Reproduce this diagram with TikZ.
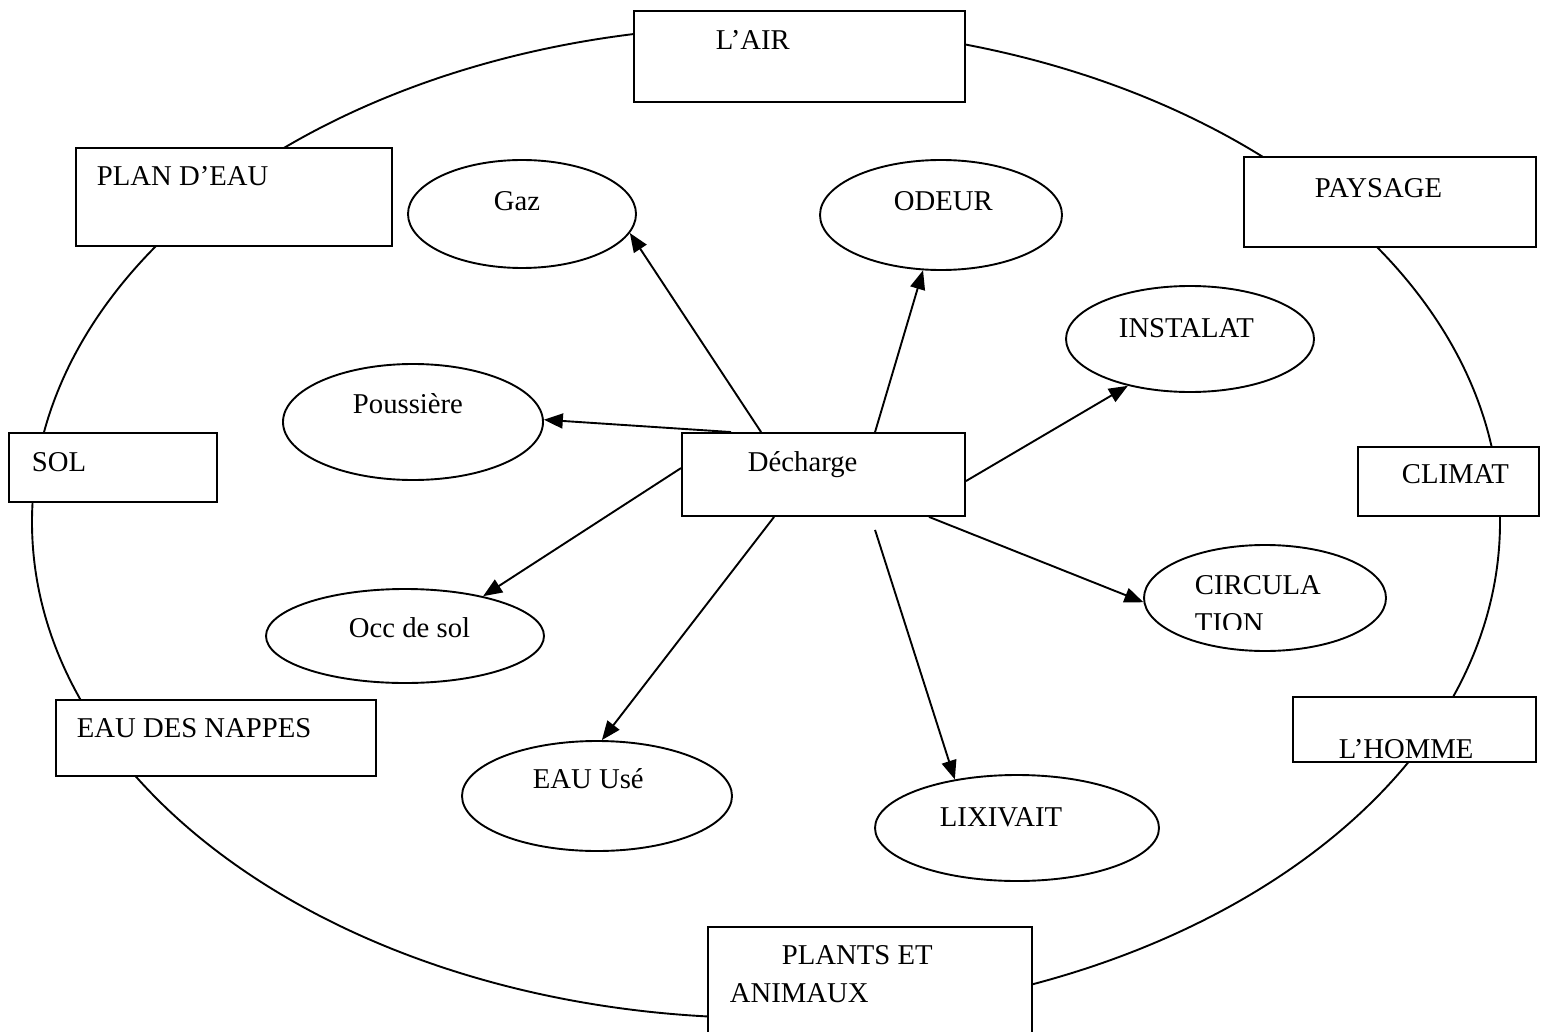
\documentclass[tikz,border=0pt]{standalone}
\usepackage{fontspec}
\setmainfont{Liberation Serif}
\usetikzlibrary{arrows.meta,calc,shapes.geometric}
\begin{document}
\begin{tikzpicture}[x=1pt,y=-1pt,line width=1.9pt,
  rbox/.style={draw,rectangle,fill=white,inner sep=0pt},
  ell/.style={draw,ellipse,fill=white,inner sep=0pt},
  lbl/.style={inner sep=0pt,anchor=base west,font=\fontsize{28.7}{38}\selectfont},
  arr/.style={-{Triangle[length=19pt,width=15pt]}}]
\useasboundingbox (0,0) rectangle (1549,1032);
\clip (0,0) rectangle (1549,1032);
% outer ring
\draw (766,522) ellipse [x radius=734, y radius=496];
% boxes on the ring
\node[rbox,minimum width=331pt,minimum height=91pt] (air) at (799.5,56.5) {};
\node[rbox,minimum width=316pt,minimum height=98pt] (plan) at (234,197) {};
\node[rbox,minimum width=292pt,minimum height=90pt] (pays) at (1390,202) {};
\node[rbox,minimum width=208pt,minimum height=69pt] (sol) at (113,467.5) {};
\node[rbox,minimum width=181pt,minimum height=69pt] (clim) at (1448.5,481.5) {};
\node[rbox,minimum width=320pt,minimum height=76pt] (nap) at (216,738) {};
\node[rbox,minimum width=243pt,minimum height=65pt] (homme) at (1414.5,729.5) {};
\node[rbox,minimum width=324pt,minimum height=120pt] (plants) at (870,987) {};
% centre
\node[rbox,minimum width=283pt,minimum height=83pt] (dech) at (823.5,474.5) {};
% ellipses
\node[ell,minimum width=228pt,minimum height=108pt] (gaz) at (522,214) {};
\node[ell,minimum width=242pt,minimum height=110pt] (odeur) at (941,215) {};
\node[ell,minimum width=248pt,minimum height=106pt] (inst) at (1190,339) {};
\node[ell,minimum width=260pt,minimum height=116pt] (pous) at (413,422) {};
\node[ell,minimum width=278pt,minimum height=94pt] (occ) at (405,636) {};
\node[ell,minimum width=242pt,minimum height=106pt] (circ) at (1265,598) {};
\node[ell,minimum width=270pt,minimum height=110pt] (eau) at (597,796) {};
\node[ell,minimum width=284pt,minimum height=106pt] (lix) at (1017,828) {};
% texts
\node[lbl] (tair) at (715,50) {L’AIR};
\node[lbl] (tplan) at (96,186) {PLAN D’EAU};
\node[lbl] (tpays) at (1314,198) {PAYSAGE};
\node[lbl] (tsol) at (31,471) {SOL};
\node[lbl] (tclim) at (1401,483) {CLIMAT};
\node[lbl] (tnap) at (76,737) {EAU DES NAPPES};
\node[lbl] (thom) at (1338,758) {L’HOMME};
\node[lbl] (tpl1) at (781,964) {PLANTS ET};
\node[lbl] (tpl2) at (729,1002) {ANIMAUX};
\node[lbl] (tdech) at (747,471) {Décharge};
\node[lbl] (tgaz) at (493,211) {Gaz};
\node[lbl] (todeur) at (893,211) {ODEUR};
\node[lbl] (tinst) at (1118,337) {INSTALAT};
\node[lbl] (tpous) at (352,413) {Poussière};
\node[lbl] (tocc) at (348,637) {Occ de sol};
\node[lbl] (tcirc) at (1194,594) {CIRCULA};
\begin{scope}
\clip (1150,600) rectangle (1380,629);
\node[lbl] (tcirc2) at (1194,632) {TION};
\end{scope}
\node[lbl] (teau) at (532,788) {EAU Usé};
\node[lbl] (tlix) at (939,826) {LIXIVAIT};
% arrows
\draw[arr] ($(dech.north west)+(80,0)$) -- (gaz.-10.5);
\draw[arr] ($(dech.north west)+(194,0)$) -- (odeur.-108.4);
\draw[arr] ($(dech.north east)+(0,49)$) -- (inst.-143);
\draw[arr] ($(dech.north west)+(50,0)$) -- (pous.1);
\draw[arr] ($(dech.north west)+(0,36)$) -- (occ.27);
\draw[arr] ($(dech.south west)+(248,0)$) -- (circ.182);
\draw[arr] ($(dech.south west)+(93,0)$) -- (eau.85);
\draw[arr] ($(dech.south west)+(194,13)$) -- (lix.142.5);
\end{tikzpicture}
\end{document}
